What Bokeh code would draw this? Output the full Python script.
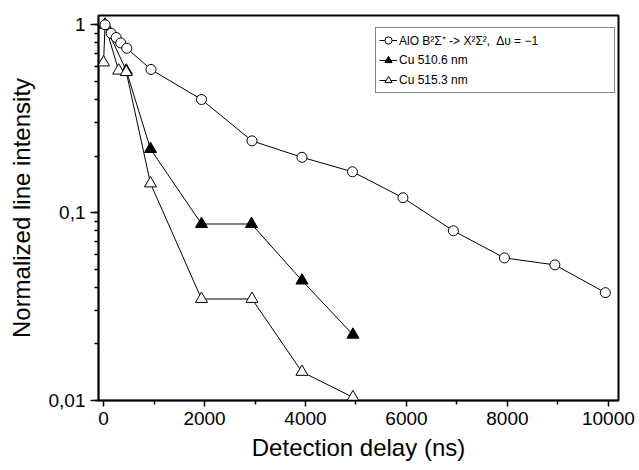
from bokeh.plotting import figure
from bokeh.models import (FixedTicker, LogTicker, CustomJSTickFormatter, Legend,
                          LegendItem, Range1d)
from bokeh.embed import file_html
from bokeh.resources import INLINE

# ---- data ----
alo_x = [30, 150, 250, 340, 460, 940, 1940, 2940, 3930, 4930, 5930, 6930, 7940, 8940, 9940]
alo_y = [1.0, 0.90, 0.855, 0.80, 0.75, 0.578, 0.40, 0.241, 0.197, 0.165, 0.120, 0.080, 0.0574, 0.0527, 0.0375]

cu5106_x = [30, 450, 930, 1940, 2930, 3930, 4940]
cu5106_y = [1.0, 0.57, 0.218, 0.087, 0.087, 0.0435, 0.0224]

cu5153_x = [0, 30, 300, 450, 930, 1940, 2940, 3930, 4940]
cu5153_y = [0.63, 1.0, 0.57, 0.56, 0.143, 0.0347, 0.0347, 0.0142, 0.0104]

x_ticks = [0, 2000, 4000, 6000, 8000, 10000]
x_minor = [1000, 3000, 5000, 7000, 9000]

label_alo = "AlO B²Σ⁺ -> X²Σ²,  Δυ = −1"
label_a = "Cu 510.6 nm"
label_b = "Cu 515.3 nm"

FONT = "Liberation Sans"

p = figure(width=639, height=470, output_backend="svg", toolbar_location=None,
           y_axis_type="log",
           x_range=Range1d(-100, 10200), y_range=Range1d(0.01, 1.12),
           min_border_left=98, min_border_right=21, min_border_top=15,
           min_border_bottom=70)

p.xgrid.visible = False
p.ygrid.visible = False
p.outline_line_color = "black"
p.outline_line_width = 2
p.background_fill_color = "white"
p.border_fill_color = "white"

# series
l_a = p.line(cu5106_x, cu5106_y, line_color="black", line_width=1)
s_a = p.scatter(cu5106_x, cu5106_y, marker="triangle", size=12,
                fill_color="black", line_color="black", line_width=1)
l_b = p.line(cu5153_x, cu5153_y, line_color="black", line_width=1)
s_b = p.scatter(cu5153_x, cu5153_y, marker="triangle", size=12,
                fill_color="white", line_color="black", line_width=1)
l_c = p.line(alo_x, alo_y, line_color="black", line_width=1)
s_c = p.scatter(alo_x, alo_y, marker="circle", size=10,
                fill_color="white", line_color="black", line_width=1)

# axes
xa = p.xaxis[0]
xa.ticker = FixedTicker(ticks=x_ticks, minor_ticks=x_minor)
xa.axis_label = "Detection delay (ns)"
xa.major_tick_out = 6
xa.major_tick_in = 0
xa.minor_tick_out = 4
xa.minor_tick_in = 0
xa.major_label_standoff = 5
xa.axis_label_standoff = 6

ya = p.yaxis[0]
ya.ticker = LogTicker(num_minor_ticks=10)
ya.formatter = CustomJSTickFormatter(code="return tick.toString().replace('.', ',');")
ya.axis_label = "Normalized line intensity"
ya.major_tick_out = 8
ya.major_tick_in = 0
ya.minor_tick_out = 4
ya.minor_tick_in = 0
ya.major_label_standoff = 5
ya.axis_label_standoff = 11

for ax in (xa, ya):
    ax.axis_line_color = "black"
    ax.axis_line_width = 1.5
    ax.major_tick_line_color = "black"
    ax.major_tick_line_width = 1.5
    ax.minor_tick_line_color = "black"
    ax.minor_tick_line_width = 1.5
    ax.major_label_text_font = FONT
    ax.major_label_text_font_size = "19px"
    ax.major_label_text_color = "black"
    ax.axis_label_text_font = FONT
    ax.axis_label_text_font_size = "24px"
    ax.axis_label_text_font_style = "normal"
    ax.axis_label_text_color = "black"

legend = Legend(items=[
    LegendItem(label=label_alo, renderers=[l_c, s_c]),
    LegendItem(label=label_a, renderers=[l_a, s_a]),
    LegendItem(label=label_b, renderers=[l_b, s_b]),
], location=(277, 307))
legend.label_text_font = FONT
legend.label_text_font_size = "12px"
legend.label_text_color = "black"
legend.glyph_width = 18
legend.glyph_height = 18
legend.label_height = 18
legend.label_width = 212
legend.label_standoff = 2
legend.spacing = 2
legend.padding = 3
legend.margin = 0
legend.border_line_color = "black"
legend.border_line_width = 1
legend.background_fill_color = "white"
legend.background_fill_alpha = 1
p.add_layout(legend, "center")

open("out.html", "w").write(file_html(p, INLINE))
